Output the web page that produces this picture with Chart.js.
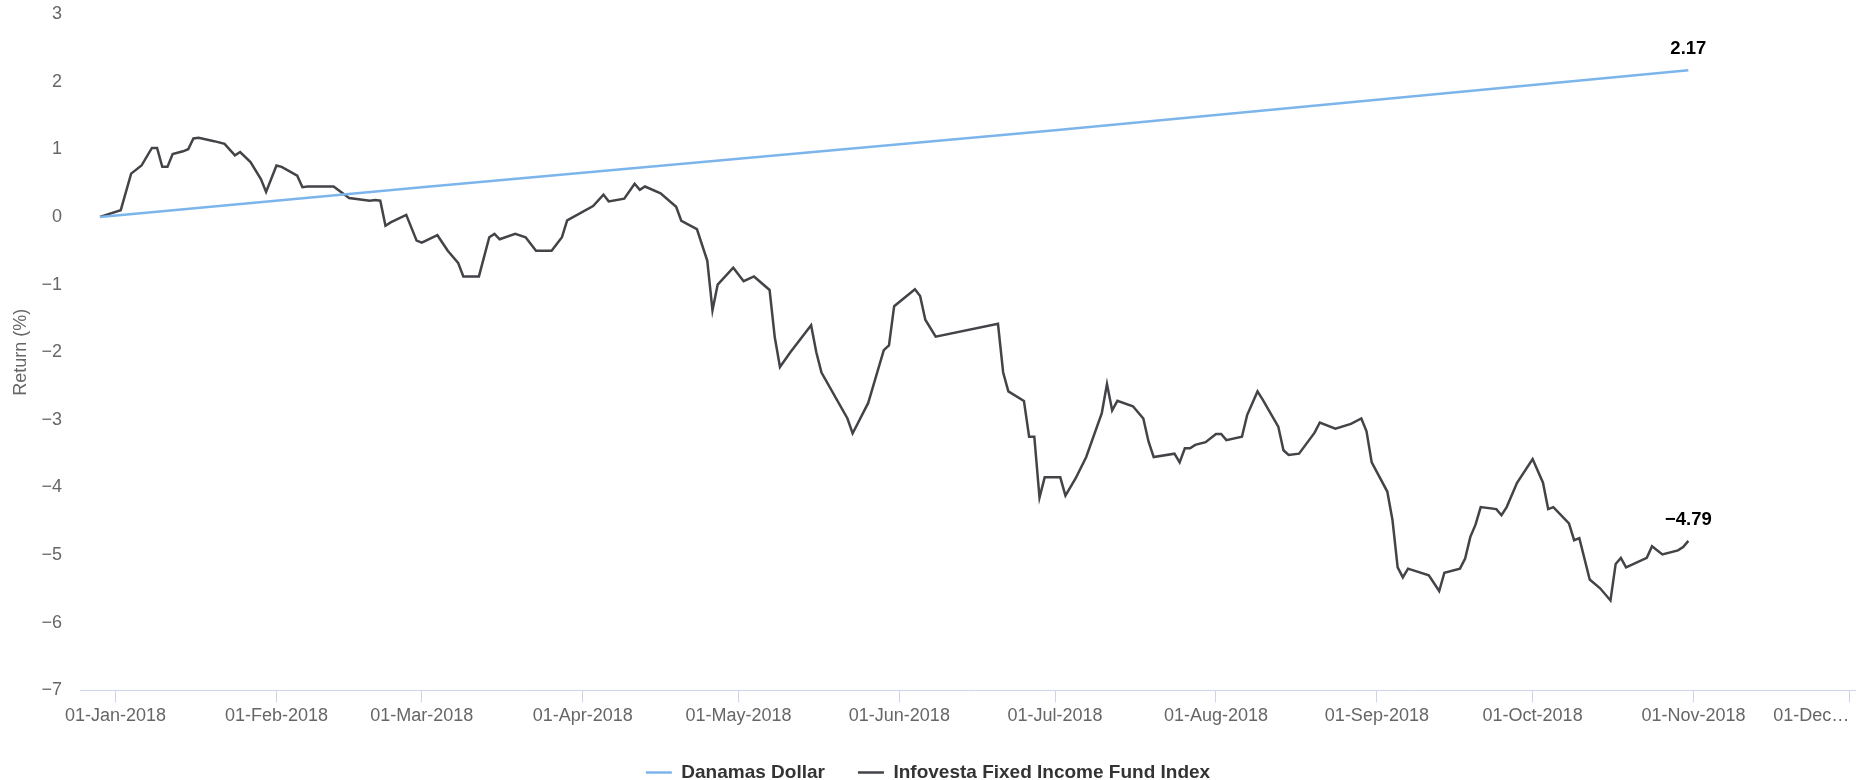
<!DOCTYPE html>
<html>
<head>
<meta charset="utf-8">
<script src="https://cdn.jsdelivr.net/npm/chart.js@4.4.0/dist/chart.umd.min.js"></script>
<style>
  html, body { margin: 0; padding: 0; background: #fff; }
  #wrap { width: 1856px; height: 780px; }
</style>
</head>
<body>
<div id="wrap"><canvas id="returnChart"></canvas></div>
<script>
// x values are days counted from 01-Jan-2018 (first point is 29-Dec-2017)
const danamasDays = [-3, 59, 181, 303];
const danamasValues = [0, 0.44, 1.28, 2.17];

const infovestaDays = [
  -3, 1, 3, 5, 7, 8, 9, 10, 11, 13, 14, 15, 16, 19, 21, 23, 24, 26, 28, 29,
  31, 32, 35, 36, 37, 42, 45, 49, 50, 51, 52, 53, 56, 58, 59, 62, 64, 66, 67, 70,
  72, 73, 74, 77, 79, 81, 84, 86, 87, 92, 94, 95, 98, 100, 101, 102, 105, 108, 109, 112,
  114, 115, 116, 119, 121, 123, 126, 127, 128, 130, 134, 135, 136, 141, 142, 143, 145, 148, 149, 150,
  154, 155, 156, 158, 170, 171, 172, 175, 176, 177, 178, 179, 182, 183, 185, 187, 190, 191, 192, 193,
  196, 198, 199, 200, 204, 205, 206, 207, 208, 210, 212, 213, 214, 217, 218, 220, 221, 224, 225, 226,
  228, 231, 232, 235, 238, 240, 241, 242, 245, 246, 247, 248, 249, 253, 255, 256, 259, 260, 261, 262,
  263, 266, 267, 268, 270, 273, 275, 276, 277, 280, 281, 282, 284, 286, 288, 289, 290, 291, 295, 296,
  298, 301, 302, 303
];
const infovestaValues = [
  0, 0.10, 0.64, 0.76, 1.02, 1.02, 0.74, 0.74, 0.93, 0.97, 1.00, 1.16, 1.17, 1.12, 1.08, 0.91, 0.96, 0.81, 0.56, 0.37,
  0.76, 0.74, 0.61, 0.44, 0.45, 0.45, 0.28, 0.24, 0.25, 0.24, -0.13, -0.08, 0.03, -0.35, -0.38, -0.27, -0.50, -0.68, -0.88, -0.88,
  -0.30, -0.25, -0.33, -0.25, -0.30, -0.50, -0.50, -0.30, -0.05, 0.16, 0.33, 0.23, 0.27, 0.49, 0.40, 0.45, 0.35, 0.15, -0.06, -0.18,
  -0.65, -1.38, -1.00, -0.75, -0.95, -0.88, -1.08, -1.78, -2.22, -2.00, -1.60, -2.00, -2.30, -2.98, -3.20, -3.05, -2.75, -1.97, -1.90, -1.32,
  -1.07, -1.17, -1.52, -1.77, -1.58, -2.30, -2.58, -2.72, -3.25, -3.25, -4.15, -3.85, -3.85, -4.12, -3.86, -3.55, -2.90, -2.47, -2.86, -2.72,
  -2.80, -2.98, -3.32, -3.55, -3.50, -3.63, -3.42, -3.42, -3.37, -3.33, -3.21, -3.21, -3.30, -3.25, -2.93, -2.58, -2.70, -3.10, -3.45, -3.52,
  -3.50, -3.19, -3.04, -3.13, -3.06, -2.98, -3.17, -3.63, -4.06, -4.48, -5.18, -5.33, -5.20, -5.30, -5.53, -5.26, -5.20, -5.05, -4.73, -4.55,
  -4.29, -4.32, -4.41, -4.29, -3.93, -3.58, -3.93, -4.32, -4.29, -4.53, -4.78, -4.75, -5.36, -5.49, -5.67, -5.13, -5.04, -5.18, -5.04, -4.87,
  -4.99, -4.93, -4.88, -4.79
];

const tickDays = [0, 31, 59, 90, 120, 151, 181, 212, 243, 273, 304, 334];
const tickLabels = ['01-Jan-2018', '01-Feb-2018', '01-Mar-2018', '01-Apr-2018', '01-May-2018', '01-Jun-2018',
  '01-Jul-2018', '01-Aug-2018', '01-Sep-2018', '01-Oct-2018', '01-Nov-2018', '01-Dec\u2026'];

const FONT = '"Liberation Sans", Arial, sans-serif';

function fmt(v, digits) {
  const s = Math.abs(v).toFixed(digits);
  return v < 0 ? '\u2212' + s : s;
}

function toPoints(days, values) {
  return days.map((d, i) => ({ x: d, y: values[i] }));
}

// value label above the last point of each line
const endLabels = {
  id: 'endLabels',
  afterDatasetsDraw(chart) {
    const ctx = chart.ctx;
    chart.data.datasets.forEach((ds, i) => {
      const meta = chart.getDatasetMeta(i);
      const pt = meta.data[meta.data.length - 1];
      const txt = fmt(ds.data[ds.data.length - 1].y, 2);
      ctx.save();
      ctx.font = 'bold 18.5px ' + FONT;
      ctx.textAlign = 'center';
      ctx.textBaseline = 'middle';
      ctx.lineJoin = 'round';
      ctx.lineWidth = 3;
      ctx.strokeStyle = '#fff';
      ctx.strokeText(txt, pt.x, pt.y - 21);
      ctx.fillStyle = '#000';
      ctx.fillText(txt, pt.x, pt.y - 21);
      ctx.restore();
    });
  }
};

Chart.defaults.font.family = FONT;

new Chart(document.getElementById('returnChart'), {
  type: 'line',
  data: {
    datasets: [{
      label: 'Danamas Dollar',
      data: toPoints(danamasDays, danamasValues),
      borderColor: '#7cb5ec',
      backgroundColor: '#7cb5ec',
      borderWidth: 2.5,
      pointRadius: 0,
      tension: 0
    }, {
      label: 'Infovesta Fixed Income Fund Index',
      data: toPoints(infovestaDays, infovestaValues),
      borderColor: '#434348',
      backgroundColor: '#434348',
      borderWidth: 2.5,
      pointRadius: 0,
      tension: 0
    }]
  },
  options: {
    responsive: true,
    maintainAspectRatio: false,
    animation: false,
    layout: { padding: { top: 0, right: 0, bottom: -12, left: 0 } },
    scales: {
      x: {
        type: 'linear',
        min: -6.85,
        max: 335.3,
        afterBuildTicks: s => {
          s.ticks = [{ value: s.min }].concat(tickDays.map(v => ({ value: v })));
        },
        ticks: {
          autoSkip: false,
          maxRotation: 0,
          align: 'inner',
          padding: 3,
          color: '#666',
          font: { size: 18 },
          callback: (v, i) => i === 0 ? '' : tickLabels[i - 1]
        },
        grid: {
          drawOnChartArea: false,
          tickLength: 12,
          tickColor: c => c.index === 0 ? 'rgba(0,0,0,0)' : '#ccd6eb'
        },
        border: { color: '#ccd6eb', width: 1 }
      },
      y: {
        min: -7,
        max: 3,
        afterFit: s => { s.width = 80; s.paddingTop = 14; },
        ticks: {
          stepSize: 1,
          padding: 10,
          color: '#666',
          font: { size: 18 },
          callback: v => fmt(v, 0)
        },
        grid: { display: false },
        border: { display: false },
        title: {
          display: true,
          text: 'Return (%)',
          color: '#666',
          font: { size: 18 },
          padding: { top: 10, bottom: 0 }
        }
      }
    },
    plugins: {
      tooltip: { enabled: false },
      legend: {
        position: 'bottom',
        labels: {
          usePointStyle: true,
          pointStyle: 'line',
          pointStyleWidth: 26,
          boxHeight: 2,
          padding: 33,
          color: '#333',
          font: { size: 19, weight: 'bold' }
        }
      }
    }
  },
  plugins: [endLabels]
});
</script>
</body>
</html>
